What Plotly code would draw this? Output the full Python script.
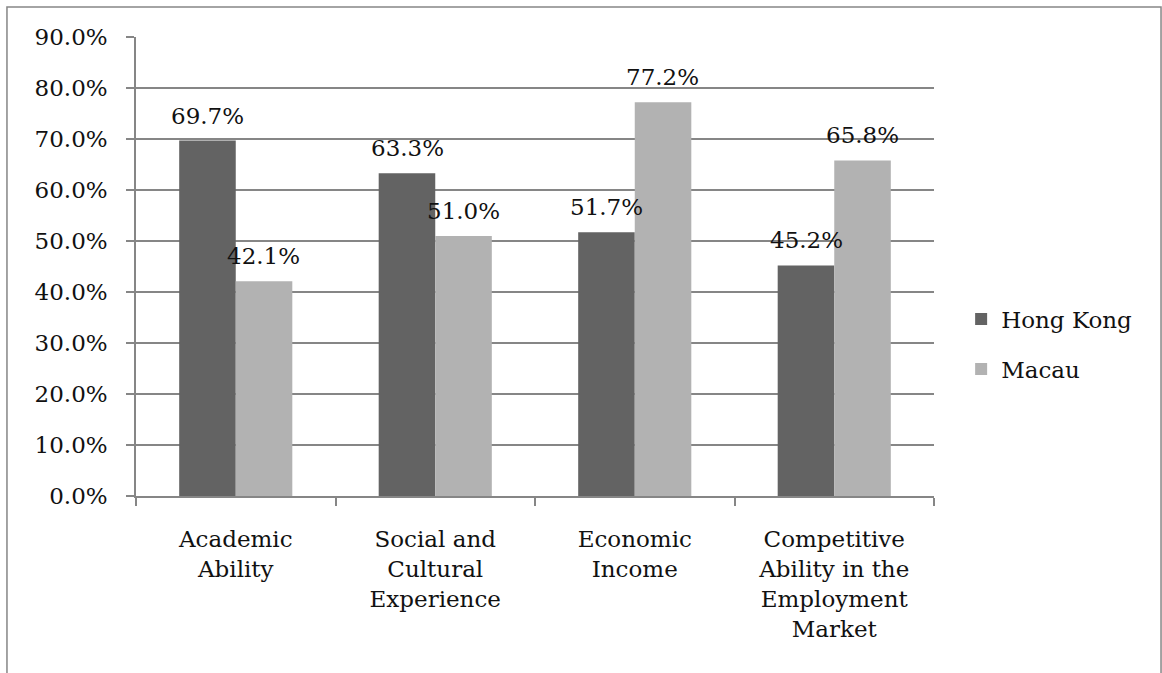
import plotly.graph_objects as go

categories = [
    "Academic<br>Ability",
    "Social and<br>Cultural<br>Experience",
    "Economic<br>Income",
    "Competitive<br>Ability in the<br>Employment<br>Market",
]
hong_kong = [69.7, 63.3, 51.7, 45.2]
macau = [42.1, 51.0, 77.2, 65.8]
y_ticks = [0, 10, 20, 30, 40, 50, 60, 70, 80, 90]
y_tick_text = [f"{v:.1f}%" for v in y_ticks]

FONT = "DejaVu Serif"
SIZE = 23
GRID = "#868686"

fig = go.Figure()
fig.add_trace(go.Bar(name="Hong Kong", x=categories, y=hong_kong,
                     marker=dict(color="#636363", line=dict(width=0)),
                     legendgroup="hk"))
fig.add_trace(go.Bar(name="Macau", x=categories, y=macau,
                     marker=dict(color="#b2b2b2", line=dict(width=0)),
                     legendgroup="mo"))

# value labels above each bar
bar_offset = 28
for series, shift in ((hong_kong, -bar_offset), (macau, bar_offset)):
    for cat, v in zip(categories, series):
        fig.add_annotation(x=cat, y=v, text=f"{v:.1f}%", showarrow=False,
                           xshift=shift, yanchor="bottom", yshift=10,
                           font=dict(family=FONT, size=SIZE, color="#111111"))

# outer frame of the chart
fig.add_shape(type="rect", xref="paper", yref="paper",
              x0=-0.1617, x1=1.2845, y0=-0.5, y1=1.0654,
              line=dict(color=GRID, width=1.5), layer="below")

fig.update_layout(
    width=1162, height=673,
    margin=dict(l=136, r=228, t=37, b=177),
    paper_bgcolor="white", plot_bgcolor="white",
    barmode="group", bargap=0.433, bargroupgap=0,
    font=dict(family=FONT, size=SIZE, color="#111111"),
    showlegend=True,
    legend=dict(x=1.034, y=0.331, xanchor="left", yanchor="middle",
                font=dict(family=FONT, size=SIZE, color="#111111"),
                tracegroupgap=17, itemwidth=30),
)
fig.update_xaxes(showline=True, linecolor=GRID, linewidth=1.5,
                 ticks="outside", tickson="boundaries", ticklen=8,
                 tickcolor=GRID, tickwidth=1.5, showgrid=False,
                 ticklabelstandoff=22,
                 tickfont=dict(family=FONT, size=SIZE, color="#111111"))
fig.update_yaxes(range=[0, 90], tickvals=y_ticks, ticktext=y_tick_text,
                 showline=True, linecolor=GRID, linewidth=1.5,
                 ticks="outside", ticklen=8, tickcolor=GRID, tickwidth=1.5,
                 showgrid=True, gridcolor=GRID, gridwidth=1.5,
                 zeroline=False, ticklabelstandoff=14,
                 tickfont=dict(family=FONT, size=SIZE, color="#111111"))

fig.write_html("out.html")
